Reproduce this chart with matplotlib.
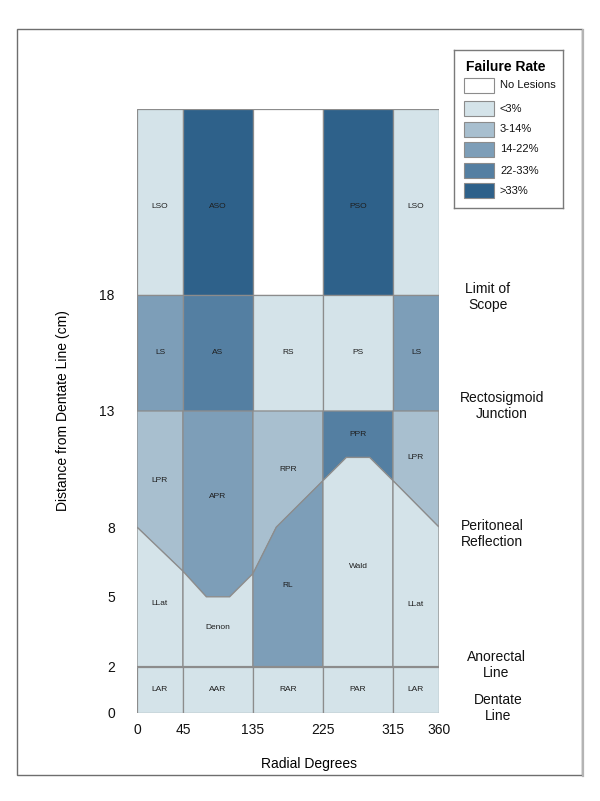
import numpy as np
import matplotlib
matplotlib.use('Agg')
import matplotlib.pyplot as plt
from matplotlib.patches import Polygon, Rectangle
from matplotlib.lines import Line2D

plt.rcParams['font.family'] = ['Liberation Sans', 'DejaVu Sans']

# ---------------- data ----------------
col_degrees = [0, 45, 135, 225, 315, 360]
level_labels = ['No Lesions', '<3%', '3-14%', '14-22%', '22-33%', '>33%']
level_colors = ['#FFFFFF', '#D4E3E9', '#A8BFCF', '#7D9EB8', '#547FA2', '#2E618A']
y_ticks = [0, 2, 5, 8, 13, 18]
top_cm = 26

so_names = ['LSO', 'ASO', '', 'PSO', 'LSO']
so_levels = [1, 5, 0, 5, 1]
s_names = ['LS', 'AS', 'RS', 'PS', 'LS']
s_levels = [3, 4, 1, 1, 3]
pr_names = ['LPR', 'APR', 'RPR', 'PPR', 'LPR']
pr_levels = [2, 3, 2, 4, 2]
low_names = ['LLat', 'Denon', 'RL', 'Wald', 'LLat']
low_levels = [1, 1, 3, 1, 1]
ar_names = ['LAR', 'AAR', 'RAR', 'PAR', 'LAR']
ar_levels = [1, 1, 1, 1, 1]

# peritoneal reflection boundary line
boundary_deg = [0, 45, 75, 105, 135, 165, 225, 255, 285, 315, 360]
boundary_cm = [8, 6.1, 5, 5, 6, 8, 10, 11, 11, 10, 8]

landmarks = ['Limit of\nScope', 'Rectosigmoid\nJunction', 'Peritoneal\nReflection',
             'Anorectal\nLine', 'Dentate\nLine']

# ---------------- layout ----------------
W, H = 600, 801
col_pos = [0, 46, 116, 186, 256, 302]   # display position of column bounds
def X(deg):
    return np.interp(deg, col_degrees, col_pos)

pr_label_y = [10.0, 9.3, 10.5, 12.0, 11.0]
low_label_y = [4.7, 3.7, 5.5, 6.3, 4.65]
landmark_x = [351, 365, 355, 359, 361]
landmark_y = [17.9, 13.2, 7.7, 2.05, 0.2]

edge = '#8C8C8C'
txtc = '#1E1E1E'

fig = plt.figure(figsize=(W / 100, H / 100), dpi=100)

# outer frame
fig.patches.append(Rectangle((17 / W, 1 - 775 / H), 565 / W, 746 / H,
                             transform=fig.transFigure, fill=False,
                             edgecolor='#6E6E6E', lw=1.0, zorder=0))
fig.lines.append(Line2D([583 / W, 583 / W], [1 - 776 / H, 1 - 30 / H],
                        transform=fig.transFigure, color='#B4B4B4', lw=1.6))

ax = fig.add_axes([137 / W, 1 - 713 / H, 302 / W, 604 / H])
ax.set_xlim(0, 302)
ax.set_ylim(0, top_cm)
for sp in ax.spines.values():
    sp.set_visible(False)

def rect_row(y0, y1, names, levels, label_y):
    for i in range(5):
        x0, x1 = X(col_degrees[i]), X(col_degrees[i + 1])
        ax.add_patch(Rectangle((x0, y0), x1 - x0, y1 - y0,
                               facecolor=level_colors[levels[i]],
                               edgecolor=edge, lw=0.9))
        if names[i]:
            ax.text((x0 + x1) / 2, label_y, names[i], ha='center', va='center',
                    fontsize=6, color=txtc)

rect_row(18, top_cm, so_names, so_levels, 21.8)
rect_row(13, 18, s_names, s_levels, 15.5)
rect_row(0, 2, ar_names, ar_levels, 1.0)

bx = X(boundary_deg)
by = np.array(boundary_cm, dtype=float)
for i in range(5):
    a, b = col_degrees[i], col_degrees[i + 1]
    m = (np.array(boundary_deg) >= a) & (np.array(boundary_deg) <= b)
    pts = list(zip(bx[m], by[m]))
    x0, x1 = X(a), X(b)
    upper = pts + [(x1, 13), (x0, 13)]
    lower = [(x0, 2), (x1, 2)] + pts[::-1]
    ax.add_patch(Polygon(upper, closed=True, facecolor=level_colors[pr_levels[i]],
                         edgecolor=edge, lw=0.9))
    ax.add_patch(Polygon(lower, closed=True, facecolor=level_colors[low_levels[i]],
                         edgecolor=edge, lw=0.9))
    xc = (x0 + x1) / 2
    ax.text(xc, pr_label_y[i], pr_names[i], ha='center', va='center', fontsize=6, color=txtc)
    ax.text(xc, low_label_y[i], low_names[i], ha='center', va='center', fontsize=6, color=txtc)

ax.set_xticks(X(col_degrees))
ax.set_xticklabels([str(d) for d in col_degrees], fontsize=10)
ax.set_yticks(y_ticks)
ax.set_yticklabels([str(v) for v in y_ticks], fontsize=10)
ax.tick_params(axis='both', length=0, colors='#111111')
ax.tick_params(axis='x', pad=7)
ax.tick_params(axis='y', pad=16)

ax.set_xlabel('Radial Degrees', fontsize=10)
ax.xaxis.set_label_coords((309 - 137) / 302, (713 - 757) / 604)
ax.set_ylabel('Distance from Dentate Line (cm)', fontsize=10)
ax.yaxis.set_label_coords((70 - 137) / 302, 0.5)

for t, lx, ly in zip(landmarks, landmark_x, landmark_y):
    ax.text(lx, ly, t, ha='center', va='center', multialignment='center',
            fontsize=10, color='#111111', clip_on=False, linespacing=1.2)

# legend
lg = fig.add_axes([454 / W, 1 - 208 / H, 109 / W, 158 / H])
lg.set_xlim(0, 109)
lg.set_ylim(158, 0)
lg.set_xticks([])
lg.set_yticks([])
for sp in lg.spines.values():
    sp.set_edgecolor('#7A7A7A')
    sp.set_linewidth(1.0)
lg.text(12, 17, 'Failure Rate', fontsize=10, fontweight='bold', va='center', ha='left')
swatch_y = [28, 51, 72, 92, 113, 133]
for lab, col, sy in zip(level_labels, level_colors, swatch_y):
    lg.add_patch(Rectangle((10, sy), 30, 15, facecolor=col, edgecolor='#8C8C8C', lw=0.8))
    lg.text(46, sy + 7.5, lab, fontsize=8, va='center', ha='left', color='#111111')

fig.savefig('out.png', dpi=100)
